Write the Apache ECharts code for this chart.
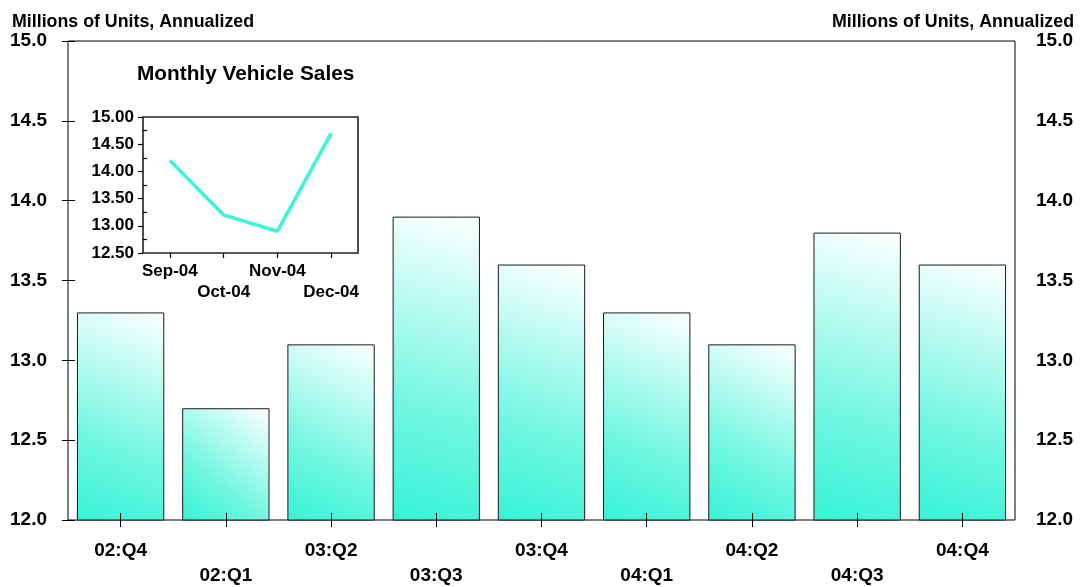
<!DOCTYPE html>
<html>
<head>
<meta charset="utf-8">
<script src="https://cdn.jsdelivr.net/npm/echarts@6/dist/echarts.min.js"></script>
<style>
  html, body { margin: 0; padding: 0; background: #fff; }
  #chart { width: 1082px; height: 587px; }
</style>
</head>
<body>
<div id="chart"></div>
<script>
// Quarterly vehicle sales (millions of units, annualized)
const quarters = ['02:Q4', '02:Q1', '03:Q2', '03:Q3', '03:Q4', '04:Q1', '04:Q2', '04:Q3', '04:Q4'];
const quarterlySales = [13.3, 12.7, 13.1, 13.9, 13.6, 13.3, 13.1, 13.8, 13.6];

// Monthly vehicle sales for the inset
const months = ['Sep-04', 'Oct-04', 'Nov-04', 'Dec-04'];
const monthlySales = [14.2, 13.2, 12.9, 14.7];

const FONT = 'Liberation Sans, Arial, sans-serif';
const CYAN = '#36f3d6';

// Alternate labels between two rows
const staggered = (v, i) => (i % 2 ? '\n' + v : v);

const mainBox = { left: 68, top: 41, width: 947, height: 479, outerBoundsMode: 'none', containLabel: false };
const insetBox = { left: 143, top: 117, width: 215, height: 136, outerBoundsMode: 'none', containLabel: false };

const bold = (size) => ({ fontSize: size, fontWeight: 'bold', color: '#000', fontFamily: FONT });
const off = { show: false };

const chart = echarts.init(document.getElementById('chart'));

chart.setOption({
  animation: false,
  backgroundColor: '#fff',
  textStyle: { fontFamily: FONT },
  title: [
    { text: 'Millions of Units, Annualized', left: 7, top: 8, textStyle: bold(17.8) },
    { text: 'Millions of Units, Annualized', right: 3, top: 8, textStyle: bold(17.8) },
    { text: 'Monthly Vehicle Sales', left: 132, top: 59, textStyle: bold(20.8) }
  ],
  grid: [
    // 0: main chart
    Object.assign({ show: true, borderColor: '#000', borderWidth: 1, backgroundColor: 'transparent' }, mainBox),
    // 1: inset chart
    Object.assign({ show: true, borderColor: '#222', borderWidth: 1.6, backgroundColor: '#fff', z: 4 }, insetBox),
    // 2: inward tick marks of the main chart
    Object.assign({ show: false }, mainBox),
    // 3: inward minor tick marks of the inset
    Object.assign({ show: false }, insetBox)
  ],
  xAxis: [
    { type: 'category', gridIndex: 0, data: quarters, z: 5,
      axisLine: off,
      axisTick: { show: true, alignWithLabel: true, length: 7, lineStyle: { color: '#000' } },
      axisLabel: Object.assign({ formatter: staggered, interval: 0, margin: 18, lineHeight: 25 }, bold(19)) },
    { type: 'category', gridIndex: 1, data: months, z: 5,
      axisLine: off,
      axisTick: { show: true, alignWithLabel: true, length: 5, lineStyle: { color: '#000', width: 1.2 } },
      axisLabel: Object.assign({ formatter: staggered, interval: 0, margin: 8, lineHeight: 21 }, bold(17)) },
    { type: 'category', gridIndex: 2, data: quarters, z: 5,
      axisLine: off,
      axisTick: { show: true, alignWithLabel: true, inside: true, length: 7, lineStyle: { color: '#000' } },
      axisLabel: off },
    { type: 'category', gridIndex: 3, data: months, z: 6,
      axisLine: off, axisTick: off, axisLabel: off }
  ],
  yAxis: [
    { type: 'value', gridIndex: 0, position: 'left', min: 12, max: 15, interval: 0.5, z: 5,
      axisLine: off, splitLine: off,
      axisTick: { show: true, length: 6, lineStyle: { color: '#000' } },
      axisLabel: Object.assign({ formatter: v => v.toFixed(1), margin: 21 }, bold(19)) },
    { type: 'value', gridIndex: 0, position: 'right', min: 12, max: 15, interval: 0.5,
      axisLine: off, splitLine: off, axisTick: off,
      axisLabel: Object.assign({ formatter: v => v.toFixed(1), margin: 21 }, bold(19)) },
    { type: 'value', gridIndex: 1, position: 'left', min: 12.5, max: 15, interval: 0.5, z: 5,
      axisLine: off, splitLine: off,
      axisTick: { show: true, length: 5, lineStyle: { color: '#000', width: 1.2 } },
      axisLabel: Object.assign({ formatter: v => v.toFixed(2), margin: 9 }, bold(17)) },
    { type: 'value', gridIndex: 2, position: 'left', min: 12, max: 15, interval: 0.5, z: 5,
      axisLine: off, splitLine: off,
      axisTick: { show: true, inside: true, length: 7, lineStyle: { color: '#000' } },
      axisLabel: off },
    { type: 'value', gridIndex: 3, position: 'left', min: 12.5, max: 15, interval: 0.5, z: 6,
      axisLine: off, splitLine: off,
      axisTick: { show: false, inside: true },
      minorTick: { show: true, splitNumber: 2, length: 4, lineStyle: { color: '#000', width: 1.2 } },
      axisLabel: off }
  ],
  series: [
    {
      type: 'bar', xAxisIndex: 0, yAxisIndex: 0,
      data: quarterlySales,
      barCategoryGap: '17%',
      itemStyle: {
        borderColor: '#1a1a1a', borderWidth: 1,
        color: new echarts.graphic.LinearGradient(0, 1, 1, 0, [
          { offset: 0, color: CYAN },
          { offset: 0.35, color: '#6ff6e0' },
          { offset: 1, color: '#ffffff' }
        ])
      }
    },
    {
      type: 'line', xAxisIndex: 1, yAxisIndex: 2,
      data: monthlySales, z: 6,
      symbol: 'none',
      lineStyle: { color: '#3ff2d8', width: 3.6 }
    }
  ]
});
</script>
</body>
</html>
